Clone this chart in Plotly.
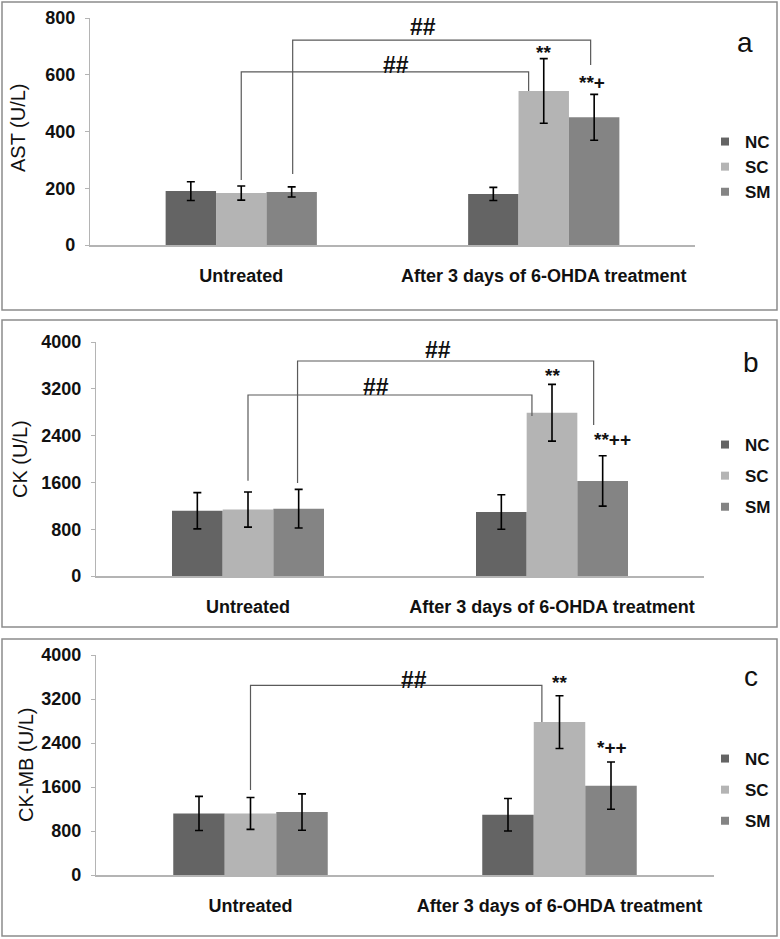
import plotly.graph_objects as go

W, H = 780, 939

# data
categories = ["Untreated", "After 3 days of 6-OHDA treatment"]
groups = ["NC", "SC", "SM"]

ast_nc = [190, 180]
ast_sc = [183, 543]
ast_sm = [187, 450]
ast_nc_err = [33, 23]
ast_sc_err = [25, 114]
ast_sm_err = [18, 81]

ck_nc = [1115, 1095]
ck_sc = [1135, 2790]
ck_sm = [1150, 1625]
ck_nc_err = [310, 295]
ck_sc_err = [300, 485]
ck_sm_err = [330, 430]

ckmb_nc = [1120, 1095]
ckmb_sc = [1120, 2780]
ckmb_sm = [1145, 1625]
ckmb_nc_err = [310, 295]
ckmb_sc_err = [290, 480]
ckmb_sm_err = [330, 430]

colors = {"NC": "#646464", "SC": "#b4b4b4", "SM": "#848484"}
FONT = "Liberation Sans, Arial, sans-serif"


def px(x):
    return x / W


def py(y):
    return 1 - y / H


# panel layout (pixels): plot box, border box, titles
panels = [
    dict(ytitle="AST (U/L)", letter="a", ymax=800, dtick=200,
         vals=[ast_nc, ast_sc, ast_sm], errs=[ast_nc_err, ast_sc_err, ast_sm_err],
         plot=(90, 695, 18, 245), border=(2, 2, 777, 310),
         ytitle_pos=(18, 128), letter_pos=(745, 43), legend_y=167, gap=0,
         brackets=[(0.0, 229, 0.95, 543, 610, 0.51, 634),
                   (0.17, 250, 1.155, 634, 722, 0.60, 768)],
         stars=[(1.0, 680, "**"), (1.16, 571, "**+")]),
    dict(ytitle="CK (U/L)", letter="b", ymax=4000, dtick=800,
         vals=[ck_nc, ck_sc, ck_sm], errs=[ck_nc_err, ck_sc_err, ck_sm_err],
         plot=(96, 704, 342, 576), border=(2, 320, 777, 627),
         ytitle_pos=(20, 459), letter_pos=(751, 362), legend_y=476, gap=6,
         brackets=[(0.0, 1629, 0.934, 2735, 3094, 0.42, 3230),
                   (0.163, 1590, 1.137, 2581, 3675, 0.625, 3863)],
         stars=[(1.0, 3419, "**"), (1.2, 2325, "**++")]),
    dict(ytitle="CK-MB (U/L)", letter="c", ymax=4000, dtick=800,
         vals=[ckmb_nc, ckmb_sc, ckmb_sm], errs=[ckmb_nc_err, ckmb_sc_err, ckmb_sm_err],
         plot=(96, 714, 655, 875), border=(2, 639, 777, 936),
         ytitle_pos=(26, 765), letter_pos=(751, 676), legend_y=790, gap=6,
         brackets=[(0.0, 1545, 0.943, 2782, 3449, 0.53, 3545)],
         stars=[(1.0, 3509, "**"), (1.17, 2327, "*++")]),
]

fig = go.Figure()
shapes = []
annotations = []
layout = {}

for i, p in enumerate(panels):
    n = "" if i == 0 else str(i + 1)
    xa, ya = "x" + n, "y" + n
    leg = "legend" + n
    x0, x1, y0, y1 = p["plot"]

    for g, vals, errs in zip(groups, p["vals"], p["errs"]):
        fig.add_trace(go.Bar(
            x=list(range(len(categories))), y=vals, name=g,
            marker=dict(color=colors[g], line=dict(width=0)),
            error_y=dict(type="data", array=errs, color="black", thickness=1.6, width=4),
            xaxis=xa, yaxis=ya, showlegend=False, offsetgroup=g,
        ))
        fig.add_trace(go.Scatter(
            x=[None], y=[None], mode="markers", name=g,
            marker=dict(symbol="square", size=8, color=colors[g]),
            xaxis=xa, yaxis=ya, legend=leg, legendgroup=g + n,
        ))

    layout["xaxis" + n] = dict(
        domain=[px(x0), px(x1)], anchor=ya, range=[-0.5, 1.5],
        tickvals=list(range(len(categories))), ticktext=categories,
        showline=True, linecolor="#b4b4b4", linewidth=1.5,
        ticks="outside", ticklen=14, tickcolor="rgba(0,0,0,0)",
        showgrid=False, zeroline=False, automargin=False,
        tickfont=dict(family=FONT, size=18, color="#111", weight="bold"),
    )
    layout["yaxis" + n] = dict(
        domain=[py(y1), py(y0)], anchor=xa, range=[0, p["ymax"]], dtick=p["dtick"],
        showline=True, linecolor="#b4b4b4", linewidth=1.2,
        ticks="outside", ticklen=4, tickcolor="#b4b4b4", ticklabelstandoff=6,
        showgrid=False, zeroline=False, automargin=False,
        tickfont=dict(family=FONT, size=18, color="#111", weight="bold"),
    )
    layout[leg] = dict(
        x=px(705), y=py(p["legend_y"]), xanchor="left", yanchor="middle",
        bgcolor="rgba(0,0,0,0)", tracegroupgap=p["gap"],
        font=dict(family=FONT, size=17, color="#111", weight="bold"),
        itemwidth=30,
    )

    bx0, by0, bx1, by1 = p["border"]
    shapes.append(dict(type="rect", xref="paper", yref="paper",
                       x0=px(bx0), x1=px(bx1), y0=py(by1), y1=py(by0),
                       line=dict(color="#8c8c8c", width=1.5)))

    for (lx, ly, rx, ry, top, tx, ty) in p["brackets"]:
        shapes.append(dict(type="path", xref=xa, yref=ya,
                           path=f"M {lx},{ly} L {lx},{top} L {rx},{top} L {rx},{ry}",
                           line=dict(color="#5a5a5a", width=1.2)))
        annotations.append(dict(x=tx, y=ty, xref=xa, yref=ya, text="##", showarrow=False,
                                xanchor="center", yanchor="middle",
                                font=dict(family=FONT, size=23, color="#111", weight="bold")))
    for (sx, sy, st) in p["stars"]:
        annotations.append(dict(x=sx, y=sy, xref=xa, yref=ya, text=st, showarrow=False,
                                xanchor="center", yanchor="middle",
                                font=dict(family=FONT, size=19, color="#111", weight="bold")))

    tx, ty = p["ytitle_pos"]
    annotations.append(dict(x=px(tx), y=py(ty), xref="paper", yref="paper",
                            text=p["ytitle"], textangle=-90, showarrow=False,
                            xanchor="center", yanchor="middle",
                            font=dict(family=FONT, size=20, color="#111")))
    lx, ly = p["letter_pos"]
    annotations.append(dict(x=px(lx), y=py(ly), xref="paper", yref="paper",
                            text=p["letter"], showarrow=False,
                            xanchor="center", yanchor="middle",
                            font=dict(family=FONT, size=28, color="#111")))

fig.update_layout(
    width=W, height=H, margin=dict(l=0, r=0, t=0, b=0, autoexpand=False),
    paper_bgcolor="white", plot_bgcolor="white",
    barmode="group", bargap=0.5, bargroupgap=0,
    shapes=shapes, annotations=annotations,
    **layout,
)

fig.write_html("out.html", config={"displayModeBar": False},
               post_script="document.body.style.margin='0';document.body.style.overflow='hidden';")
